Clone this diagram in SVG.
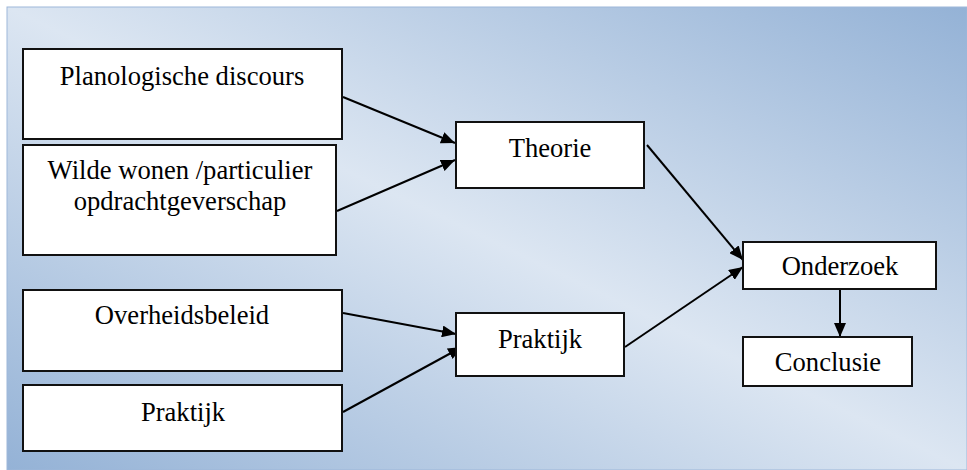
<svg xmlns="http://www.w3.org/2000/svg" width="967" height="470" viewBox="0 0 967 470">
  <defs>
    <!-- diagonal-up panel shading: darker at bottom-left and top-right, light band through the middle -->
    <linearGradient id="panelFill" x1="0" y1="1" x2="1" y2="0">
      <stop offset="0" stop-color="#94b2d6"/>
      <stop offset="0.5" stop-color="#dce6f2"/>
      <stop offset="1" stop-color="#94b2d6"/>
    </linearGradient>
    <marker id="arrow" viewBox="0 0 14 12" refX="14" refY="6" markerWidth="14" markerHeight="12" markerUnits="userSpaceOnUse" orient="auto">
      <path d="M0,0 L14,6 L0,12 Z" fill="#000"/>
    </marker>
    <style>
      .box { fill: #ffffff; stroke: #111; stroke-width: 2; }
      .label { font-size: 26.6px; fill: #000; text-anchor: middle; }
      .conn { stroke: #000; stroke-width: 2; fill: none; marker-end: url(#arrow); }
    </style>
  </defs>

  <rect x="0" y="0" width="967" height="470" fill="#ffffff"/>
  <rect x="7" y="7" width="960" height="463" fill="url(#panelFill)" stroke="#9db7d9" stroke-width="1"/>

  <g id="connectors">
    <line class="conn" x1="343" y1="97" x2="455" y2="143"/>
    <line class="conn" x1="337" y1="211" x2="455" y2="160"/>
    <line class="conn" x1="647" y1="145" x2="743" y2="260"/>
    <line class="conn" x1="625" y1="347" x2="743" y2="267"/>
    <line class="conn" x1="343" y1="313" x2="456" y2="334"/>
    <line class="conn" x1="343" y1="412" x2="462" y2="347"/>
    <line class="conn" x1="840" y1="289" x2="840" y2="337"/>
  </g>

  <g font-family="Liberation Serif, Times New Roman, serif">
    <g id="planologische-discours">
      <rect class="box" x="23" y="49" width="319" height="90"/>
      <text class="label" x="182" y="85">Planologische discours</text>
    </g>

    <g id="wilde-wonen">
      <rect class="box" x="23" y="145" width="313" height="110"/>
      <text class="label" x="180" y="179">Wilde wonen /particulier</text>
      <text class="label" x="180" y="210">opdrachtgeverschap</text>
    </g>

    <g id="overheidsbeleid">
      <rect class="box" x="23" y="290" width="319" height="81"/>
      <text class="label" x="182" y="324">Overheidsbeleid</text>
    </g>

    <g id="praktijk-bron">
      <rect class="box" x="23" y="385" width="319" height="66"/>
      <text class="label" x="183" y="421">Praktijk</text>
    </g>

    <g id="theorie">
      <rect class="box" x="456" y="122" width="188" height="66"/>
      <text class="label" x="550" y="157">Theorie</text>
    </g>

    <g id="praktijk">
      <rect class="box" x="456" y="313" width="168" height="63"/>
      <text class="label" x="540" y="348">Praktijk</text>
    </g>

    <g id="onderzoek">
      <rect class="box" x="743" y="242" width="193" height="47"/>
      <text class="label" x="840" y="275">Onderzoek</text>
    </g>

    <g id="conclusie">
      <rect class="box" x="743" y="337" width="169" height="49"/>
      <text class="label" x="828" y="371">Conclusie</text>
    </g>
  </g>
</svg>
